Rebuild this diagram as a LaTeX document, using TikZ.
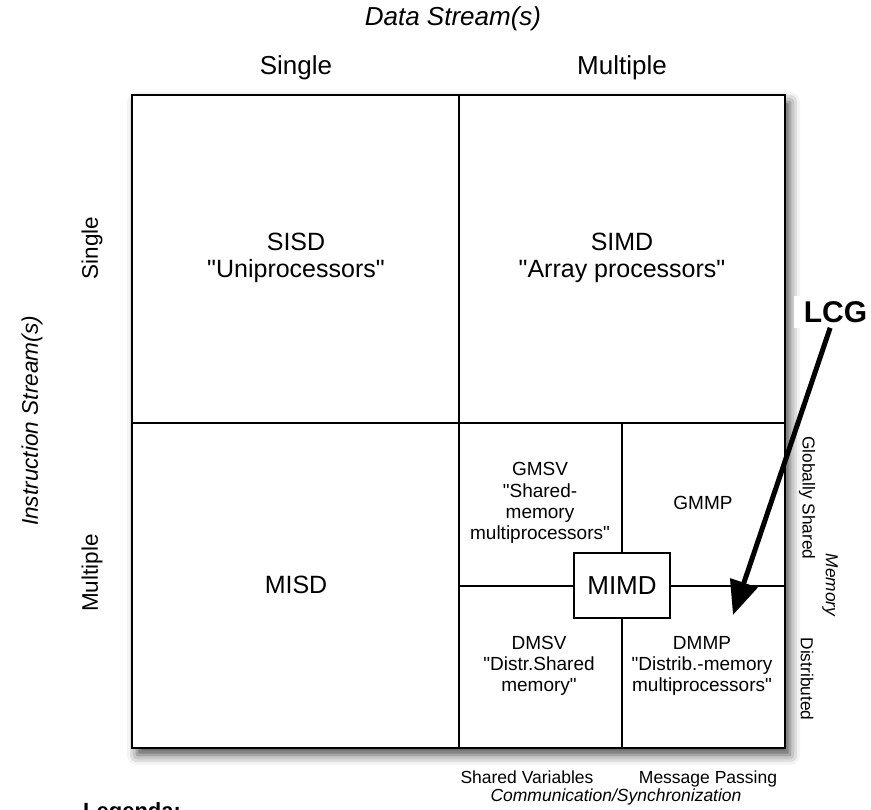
\documentclass[tikz,border=0pt]{standalone}
\usepackage{fontspec}
\setmainfont{Liberation Sans}
\usetikzlibrary{shadows.blur,arrows.meta}
% straight double quote, taken as a glyph so no quote mapping applies
\newcommand{\sq}{\XeTeXglyph\XeTeXcharglyph"22\relax}

\begin{document}
\begin{tikzpicture}[x=1pt,y=-1pt,
  txt/.style={inner sep=0pt, align=center},
  head/.style={txt, font=\fontsize{26}{30}\selectfont},
  axis/.style={txt, font=\itshape\fontsize{26}{30}\selectfont},
  rowlab/.style={txt, rotate=90, font=\fontsize{22.5}{27}\selectfont},
  big/.style={txt, font=\fontsize{25}{27}\selectfont},
  cell/.style={txt, font=\fontsize{19}{21.3}\selectfont},
  memlab/.style={txt, rotate=-90, font=\fontsize{17.3}{20}\selectfont},
  commlab/.style={txt, anchor=base, font=\fontsize{17.5}{20}\selectfont},
  frameline/.style={line width=2pt},
  divider/.style={line width=1.2pt},
  mimdbox/.style={draw, line width=1.5pt, fill=white, minimum width=96pt,
    minimum height=65pt, inner sep=0pt, font=\fontsize{26}{30}\selectfont},
  callout/.style={fill=white, inner xsep=10pt, inner ysep=5pt,
    font=\bfseries\fontsize{30}{34}\selectfont},
  pointer/.style={line width=5pt, line join=miter,
    -{Triangle[length=34pt,width=28pt,fill=black]}}]

\useasboundingbox (0,0) rectangle (871,810);

% outer frame with soft drop shadow
\fill[white, blur shadow={shadow xshift=5pt, shadow yshift=-7pt,
  shadow blur radius=10pt, shadow opacity=70}] (132,95) rectangle (785,748);

% quadrant and sub-quadrant dividers
\draw[divider] (459,95) -- (459,748);
\draw[divider] (132,423) -- (785,423);
\draw[divider] (622,423) -- (622,748);
\draw[divider] (459,586) -- (785,586);
\draw[frameline] (132,95) rectangle (785,748);

% central MIMD box
\node[mimdbox] (mimd) at (622,585.5) {MIMD};

% axis titles
\node[axis] (data) at (453,19) {Data Stream(s)};
\node[txt, rotate=90, font=\itshape\fontsize{22.6}{27}\selectfont] (instr) at (32,421) {Instruction Stream(s)};

% column and row headers
\node[head] (colsingle) at (296,68) {Single};
\node[head] (colmulti) at (622,68) {Multiple};
\node[rowlab] (rowsingle) at (92,248) {Single};
\node[rowlab] (rowmulti) at (92,573) {Multiple};

% quadrant labels
\node[big] (sisd) at (296,258) {SISD\\\sq Uniprocessors\sq};
\node[big] (simd) at (622,258) {SIMD\\\sq Array processors\sq};
\node[big] (misd) at (296,585) {MISD};

% MIMD sub-classes
\node[cell] (gmsv) at (540,503) {GMSV\\\sq Shared-\\memory\\multiprocessors\sq};
\node[cell] (gmmp) at (703,503) {GMMP};
\node[cell] (dmsv) at (539,666) {DMSV\\\sq Distr.Shared\\memory\sq};
\node[cell] (dmmp) at (702,666) {DMMP\\\sq Distrib.-memory\\multiprocessors\sq};

% memory axis (right)
\node[memlab] (gshared) at (807,498) {Globally Shared};
\node[memlab] (distrib) at (807,679) {Distributed};
\node[memlab, font=\itshape\fontsize{17.3}{20}\selectfont] (memory) at (830,585) {Memory};

% communication axis (bottom)
\node[commlab] (sharedvar) at (527,783) {Shared Variables};
\node[commlab] (msgpass) at (708,783) {Message Passing};
\node[commlab, font=\itshape\fontsize{17.5}{20}\selectfont] (commsync) at (616,801) {Communication/Synchronization};

\node[anchor=base west, inner sep=0pt, font=\bfseries\fontsize{22}{26}\selectfont] (legend) at (83,818) {Legenda:};

% LCG callout
\node[callout] (lcg) at (835.5,312) {LCG};
\coordinate (tip) at (733,615);
\draw[pointer] (lcg) -- (tip);

\end{tikzpicture}
\end{document}
